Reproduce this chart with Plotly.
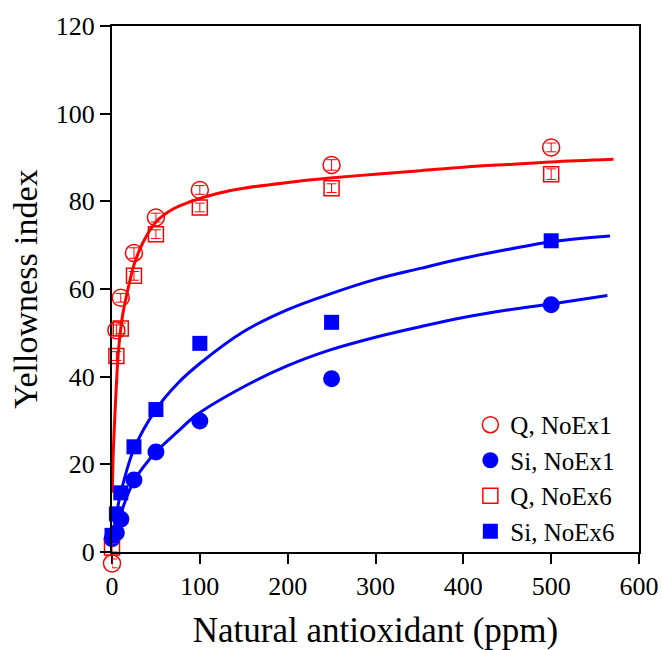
import plotly.graph_objects as go

# ---- data ----
conc = [0, 5, 10, 25, 50, 100, 250, 500]
q_noex1 = [-2.6, 50.6, 58.0, 68.2, 76.3, 82.6, 88.3, 92.3]
q_noex1_err = [1.0, 1.2, 1.0, 1.2, 1.0, 1.0, 1.2, 1.0]
si_noex1 = [3.0, 4.4, 7.5, 16.4, 22.8, 29.9, 39.5, 56.4]
q_noex6 = [1.0, 44.7, 51.0, 63.0, 72.5, 78.6, 83.0, 86.2]
q_noex6_err = [1.0, 1.0, 1.2, 1.0, 1.0, 1.0, 1.0, 1.2]
si_noex6 = [3.8, 8.7, 13.5, 24.0, 32.5, 47.6, 52.4, 71.0]

# fitted curves
red_fit_x = [0.3, 1.5, 3.4, 5, 7, 10, 12.5, 16, 20.5, 25, 35, 50, 70, 89, 120, 150, 200, 248.5, 300, 351, 400, 450, 500, 571]
red_fit_y = [13.5, 23.0, 31.7, 38.0, 45.0, 51.0, 54.5, 58.0, 62.0, 65.5, 70.5, 75.3, 78.3, 79.9, 81.8, 83.0, 84.3, 85.3, 86.2, 87.0, 87.8, 88.4, 89.0, 89.6]
blue6_fit_x = [0.3, 5, 10, 25, 50, 75, 100, 150, 200, 250, 300, 351, 400, 450, 500, 567]
blue6_fit_y = [2.0, 8.5, 13.5, 23.5, 32.5, 38.5, 43.0, 50.3, 55.3, 59.0, 62.2, 64.7, 67.0, 69.0, 70.8, 72.1]
blue1_fit_x = [0.3, 5, 10, 25, 50, 75, 96.5, 150, 200, 248.5, 300, 351, 400, 450, 500, 564]
blue1_fit_y = [1.5, 5.0, 8.7, 16.2, 22.8, 27.5, 31.3, 37.7, 42.5, 46.1, 49.0, 51.4, 53.5, 55.2, 56.6, 58.5]

x_ticks = [0, 100, 200, 300, 400, 500, 600]
y_ticks = [0, 20, 40, 60, 80, 100, 120]
x_range = [0, 600]
y_range = [0, 120]

RED = "#ff0000"
BLUE = "#0000ff"
FONT = "Liberation Serif, Times New Roman, serif"

# layout geometry (pixels)
W, H = 662, 650
M_L, M_R, M_T = 112, 23, 26
PLOT_H = 526          # height of the main frame
EXT = 20              # extra room under the frame for points below y = 0
M_B = H - M_T - PLOT_H - EXT
d = EXT / (PLOT_H + EXT)
y2_low = y_range[0] - EXT * (y_range[1] - y_range[0]) / PLOT_H

fig = go.Figure()

# fitted lines
for fx, fy, col in [(red_fit_x, red_fit_y, RED), (blue6_fit_x, blue6_fit_y, BLUE), (blue1_fit_x, blue1_fit_y, BLUE)]:
    fig.add_trace(go.Scatter(x=fx, y=fy, mode="lines", line=dict(color=col, width=3, shape="spline", smoothing=1),
                             showlegend=False, hoverinfo="skip"))

# Q, NoEx1 has a point below zero -> drawn on an invisible twin axis with identical scale, extended downward
fig.add_trace(go.Scatter(x=conc, y=q_noex1, mode="markers", name="Q, NoEx1", xaxis="x2", yaxis="y2",
                         marker=dict(symbol="circle-open", size=17, color=RED, line=dict(width=1.5, color=RED)),
                         error_y=dict(type="data", array=q_noex1_err, color=RED, thickness=1, width=5),
                         cliponaxis=False))
fig.add_trace(go.Scatter(x=conc, y=si_noex1, mode="markers", name="Si, NoEx1",
                         marker=dict(symbol="circle", size=17, color=BLUE),
                         cliponaxis=False))
fig.add_trace(go.Scatter(x=conc, y=q_noex6, mode="markers", name="Q, NoEx6",
                         marker=dict(symbol="square-open", size=15, color=RED, line=dict(width=1.5, color=RED)),
                         error_y=dict(type="data", array=q_noex6_err, color=RED, thickness=1, width=5),
                         cliponaxis=False))
fig.add_trace(go.Scatter(x=conc, y=si_noex6, mode="markers", name="Si, NoEx6",
                         marker=dict(symbol="square", size=15, color=BLUE),
                         cliponaxis=False))

axis_common = dict(showline=True, linecolor="black", linewidth=2, mirror=True,
                   ticks="outside", ticklen=10, tickwidth=2, tickcolor="black",
                   showgrid=False, zeroline=False, automargin=False,
                   tickfont=dict(family=FONT, size=26, color="black"))

fig.update_layout(
    xaxis=dict(range=x_range, tickvals=x_ticks, ticktext=[str(v) for v in x_ticks], domain=[0, 1],
               title=dict(text="Natural antioxidant (ppm)", font=dict(family=FONT, size=35, color="black"), standoff=20),
               **axis_common),
    yaxis=dict(range=y_range, tickvals=y_ticks, ticktext=[str(v) for v in y_ticks], domain=[d, 1],
               title=dict(text="Yellowness index", font=dict(family=FONT, size=34, color="black"), standoff=8),
               **axis_common),
    xaxis2=dict(range=x_range, domain=[0, 1], anchor="y2", visible=False, showgrid=False, zeroline=False),
    yaxis2=dict(range=[y2_low, y_range[1]], domain=[0, 1], anchor="x2", visible=False, showgrid=False, zeroline=False),
)

fig.update_layout(
    width=W, height=H,
    margin=dict(l=M_L, r=M_R, t=M_T, b=M_B),
    plot_bgcolor="rgba(0,0,0,0)", paper_bgcolor="white",
    font=dict(family=FONT, color="black"),
    legend=dict(x=0.68, y=0.3114, xanchor="left", yanchor="top",
                font=dict(family=FONT, size=25, color="black"),
                bgcolor="rgba(0,0,0,0)", tracegroupgap=0),
)

fig.write_html("out.html", config={"displayModeBar": False},
               post_script="document.body.style.margin='0';document.body.style.overflow='hidden';")
